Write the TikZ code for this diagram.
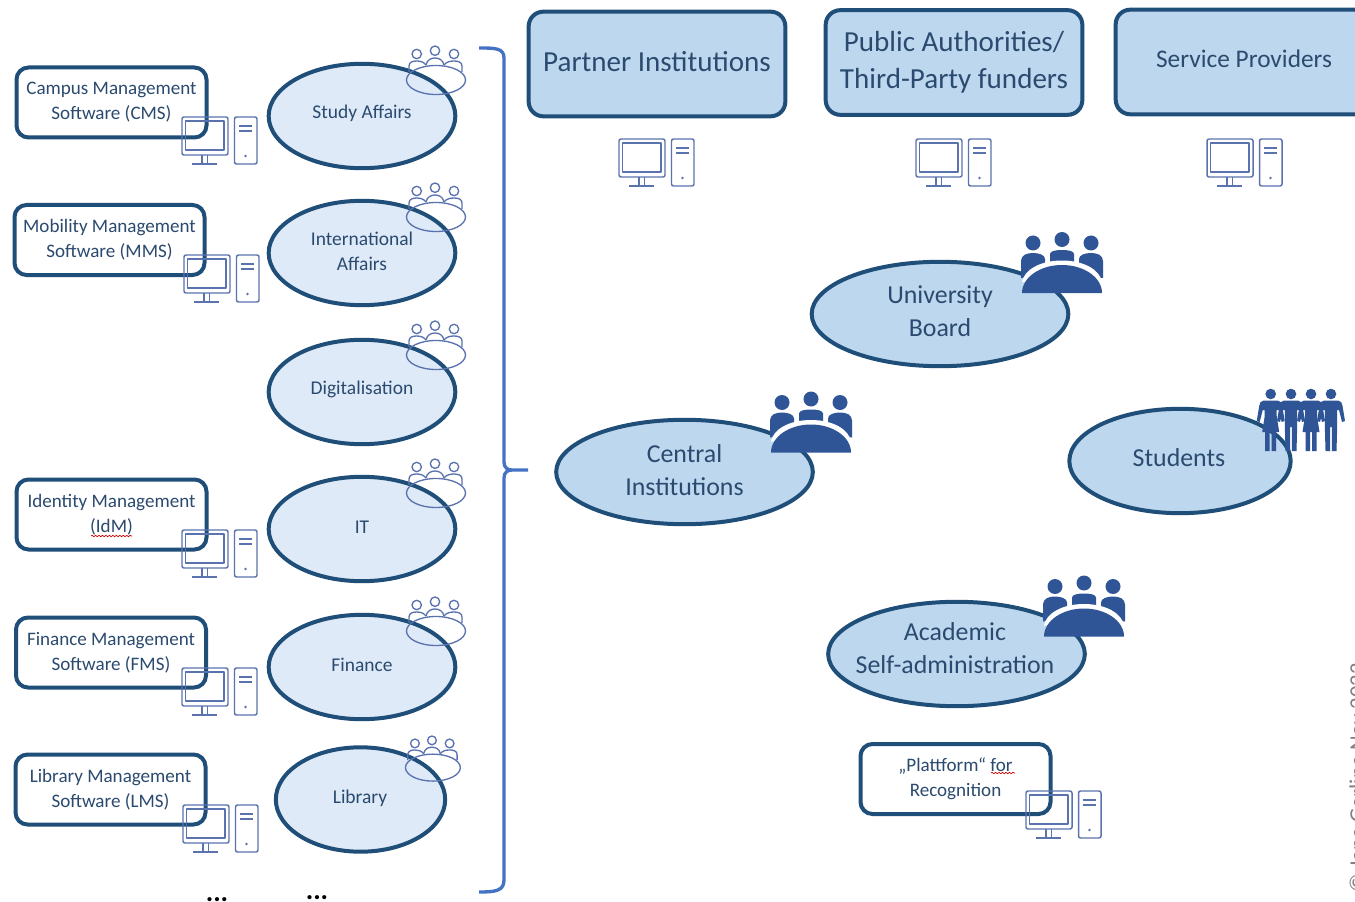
\documentclass[tikz,border=0pt]{standalone}
\usepackage{fontspec}
\setmainfont{Carlito}
\usetikzlibrary{shapes.geometric,decorations.pathmorphing}
\definecolor{edgeblue}{HTML}{1F4E79}
\definecolor{txtblue}{HTML}{2B4A6F}
\definecolor{iconline}{HTML}{5A72AE}
\definecolor{iconsolid}{HTML}{2F5597}
\definecolor{lightfill}{HTML}{DEEAF7}
\definecolor{midfill}{HTML}{BDD7EE}
\definecolor{bracecol}{HTML}{4472C4}
\definecolor{copycol}{HTML}{808080}
\tikzset{
  x=0.75pt,y=-0.75pt,
  swbox/.style={draw=edgeblue,line width=3pt,rounded corners=9pt,fill=white,inner sep=0pt,text=txtblue,align=center,
    minimum width=142.5pt,minimum height=52.5pt,font=\fontsize{14.3}{18.75}\selectfont},
  orgbox/.style={draw=edgeblue,line width=3pt,rounded corners=11pt,fill=midfill,inner sep=0pt,text=txtblue,align=center,
    minimum width=192.5pt,minimum height=78.5pt},
  smallell/.style={ellipse,draw=edgeblue,line width=3pt,fill=lightfill,inner sep=0pt,minimum width=140pt,minimum height=78.3pt},
  bigell/.style={ellipse,draw=edgeblue,line width=3pt,fill=midfill,inner sep=0pt,minimum width=192.5pt,minimum height=78.3pt},
  smalltxt/.style={text=txtblue,align=center,inner sep=0pt,font=\fontsize{14.6}{18.75}\selectfont},
  bigtxt/.style={text=txtblue,align=center,inner sep=0pt,font=\fontsize{19.4}{24.75}\selectfont},
  dotstxt/.style={inner sep=0pt,anchor=base,font=\fontsize{21}{24}\selectfont\bfseries},
  squiggle/.style={draw=red!80!black,line width=0.5pt,decorate,decoration={snake,amplitude=0.55pt,segment length=2.6pt}},
  computer/.pic={
    \begin{scope}[draw=iconline,line width=1.1pt,line join=round]
      \draw[rounded corners=1.5pt] (0,0) rectangle (46,38);
      \draw (3.5,4) rectangle (42,33);
      \draw (20,38) -- (20,46) (25.5,38) -- (25.5,46);
      \draw (10,47) -- (35,47);
      \draw[rounded corners=1.5pt] (52.5,0) rectangle (75,47);
      \draw (57,9) -- (70,9) (57,14) -- (70,14);
      \fill[iconline] (63.5,39) circle (1.3);
    \end{scope}
  },
  people/.pic={
    \begin{scope}[draw=iconline,line width=1pt,line join=round]
      \draw (10.7,8) circle (4.7) (29,4.7) circle (4.7) (48,8) circle (4.7);
      \draw (3,26) -- (3,20) .. controls (3,16) and (7,15) .. (10.7,15) .. controls (14,15) and (18,16) .. (20,19);
      \draw (20,19) .. controls (21,14) and (25,12) .. (29,12) .. controls (33,12) and (37,14) .. (38,19);
      \draw (38,19) .. controls (40,16) and (44,15) .. (48,15) .. controls (52,15) and (56,16) .. (56,20) -- (56,26);
      \draw (30,34) ellipse (29.5 and 14.5);
    \end{scope}
  },
  meeting/.pic={
    \fill[iconsolid] (12,11) circle (7.5) (41,7.5) circle (7.5) (70,11) circle (7.5);
    \fill[iconsolid] (0,46) -- (0,29) .. controls (0,23) and (6,21) .. (12,21) .. controls (18,21) and (24,23) .. (24,27) -- (24,45) -- cycle;
    \fill[iconsolid] (82,46) -- (82,29) .. controls (82,23) and (76,21) .. (70,21) .. controls (64,21) and (58,23) .. (58,27) -- (58,45) -- cycle;
    \fill[iconsolid] (29,30) -- (29,22) .. controls (29,19) and (35,18) .. (41,18) .. controls (47,18) and (53,19) .. (53,22) -- (53,30) -- cycle;
    \fill[white] (1,50) .. controls (3,38) and (19,28.5) .. (41,28.5) .. controls (63,28.5) and (79,38) .. (81,50) -- cycle;
    \fill[iconsolid] (1,61) .. controls (1,45.5) and (19,33) .. (41,33) .. controls (63,33) and (81,45.5) .. (81,61) -- cycle;
  },
  maleicon/.pic={
    \fill[iconsolid] (0,0) circle (5.3);
    \fill[iconsolid] (-7,6.5) -- (7,6.5) .. controls (10,6.5) and (11,9) .. (11.5,12) -- (14,27) -- (11,28) -- (8,16) -- (6.2,16) -- (6.2,32) -- (5.5,57) -- (0.8,57) -- (0.8,33) -- (-0.8,33) -- (-0.8,57) -- (-5.5,57) -- (-6.2,32) -- (-6.2,16) -- (-8,16) -- (-11,28) -- (-14,27) -- (-11.5,12) .. controls (-11,9) and (-10,6.5) .. (-7,6.5) -- cycle;
  },
  femaleicon/.pic={
    \fill[iconsolid] (0,0) circle (5.3);
    \fill[iconsolid] (-7,6.5) -- (7,6.5) .. controls (10,6.5) and (11,9) .. (11.5,12) -- (14,27) -- (11,28) -- (8,16) -- (6,16) -- (6,22) -- (8.5,38) -- (5.5,38) -- (5.5,57) -- (1,57) -- (1,38) -- (-1,38) -- (-1,57) -- (-5.5,57) -- (-5.5,38) -- (-8.5,38) -- (-6,22) -- (-6,16) -- (-8,16) -- (-11,28) -- (-14,27) -- (-11.5,12) .. controls (-11,9) and (-10,6.5) .. (-7,6.5) -- cycle;
  },
}
\begin{document}
\begin{tikzpicture}
\clip (0,0) rectangle (1355,902);
\fill[white] (0,0) rectangle (1355,902);

% left boxes
\node[swbox] (cms) at (111.5,102.5) {Campus Management\\Software (CMS)};
\node[swbox] (mms) at (109.5,240) {Mobility Management\\Software (MMS)};
\node[swbox] (idm) at (111.5,514.5) {Identity Management\\(IdM)};
\node[swbox] (fms) at (111,652.5) {Finance Management\\Software (FMS)};
\node[swbox] (lms) at (110.5,789.5) {Library Management\\Software (LMS)};
\draw[squiggle] (91,536) -- (132,536);

\pic at (182,117) {computer};
\pic at (184,255) {computer};
\pic at (182,530) {computer};
\pic at (182,668) {computer};
\pic at (183,805) {computer};

% department ellipses
\node[smallell] (study) at (362,116) {};
\node[smalltxt] (studyt) at (362,113) {Study Affairs};
\node[smallell] (intl) at (362,253) {};
\node[smalltxt] (intlt) at (362,251) {International\\Affairs};
\node[smallell] (digi) at (362,392) {};
\node[smalltxt] (digit) at (362,389) {Digitalisation};
\node[smallell] (it) at (362,529) {};
\node[smalltxt] (itt) at (362,527) {IT};
\node[smallell] (fin) at (362,667) {};
\node[smalltxt] (fint) at (362,665) {Finance};
\node[smallell,minimum width=127pt] (lib) at (360.5,799.5) {};
\node[smalltxt] (libt) at (360,798) {Library};

\pic at (406,46) {people};
\pic at (406,183) {people};
\pic at (406,321) {people};
\pic at (406,459) {people};
\pic at (406,597) {people};
\pic[scale=0.93] at (405,736) {people};

\node[dotstxt] (dotsa) at (217,901) {...};
\node[dotstxt] (dotsb) at (317,899) {...};

% brace
\coordinate (bt) at (479,48);
\coordinate (bm) at (528,470);
\coordinate (bb) at (479,892);
\draw[bracecol,line width=2.5pt] (bt) .. controls (495,48) and (504,48) .. (504,58) -- (504,462) .. controls (504,468) and (508,470) .. (512,470) -- (bm) -- (512,470) .. controls (508,470) and (504,472) .. (504,478) -- (504,880) .. controls (504,891) and (495,892) .. (bb);

% top boxes
\node[orgbox] (partner) at (657,64) {};
\node[text=txtblue,inner sep=0pt,font=\fontsize{21.8}{27.75}\selectfont] (partnert) at (657,62) {Partner Institutions};
\node[orgbox,font=\fontsize{21.8}{27.75}\selectfont] (public) at (954,62.5) {Public Authorities/\\Third-Party funders};
\node[orgbox] (service) at (1244,62) {};
\node[text=txtblue,inner sep=0pt,font=\fontsize{19}{24}\selectfont] (servicet) at (1244,59) {Service Providers};
\pic at (619,139) {computer};
\pic at (916,139) {computer};
\pic at (1207,139) {computer};

% stakeholder ellipses
\node[bigell] (board) at (940,314) {};
\node[bigtxt] (boardt) at (940,311) {University\\Board};
\pic at (1021,232) {meeting};
\node[bigell] (central) at (684.5,472) {};
\node[bigtxt] (centralt) at (684.5,470) {Central\\Institutions};
\pic at (770,391.5) {meeting};
\node[bigell,minimum width=166pt] (students) at (1180,461) {};
\node[bigtxt] (studentst) at (1179,458) {Students};
\pic at (1270.7,394) {femaleicon};
\pic at (1291,394) {maleicon};
\pic at (1311,394) {femaleicon};
\pic at (1331,394) {maleicon};
\node[bigell] (academic) at (956.5,654) {};
\node[bigtxt] (academict) at (955,648) {Academic\\Self-administration};
\pic at (1043,575.5) {meeting};

% platform
\node[swbox] (platform) at (955.5,779) {„Plattform“ for\\Recognition};
\draw[squiggle] (991,773) -- (1015,773);
\pic at (1026,791) {computer};

% copyright
\node[rotate=90,anchor=base west,inner sep=0pt,text=copycol,font=\fontsize{17}{20}\selectfont] (copy) at (1365,893) {© Jana Gerlina Nov 2022};
\end{tikzpicture}
\end{document}
